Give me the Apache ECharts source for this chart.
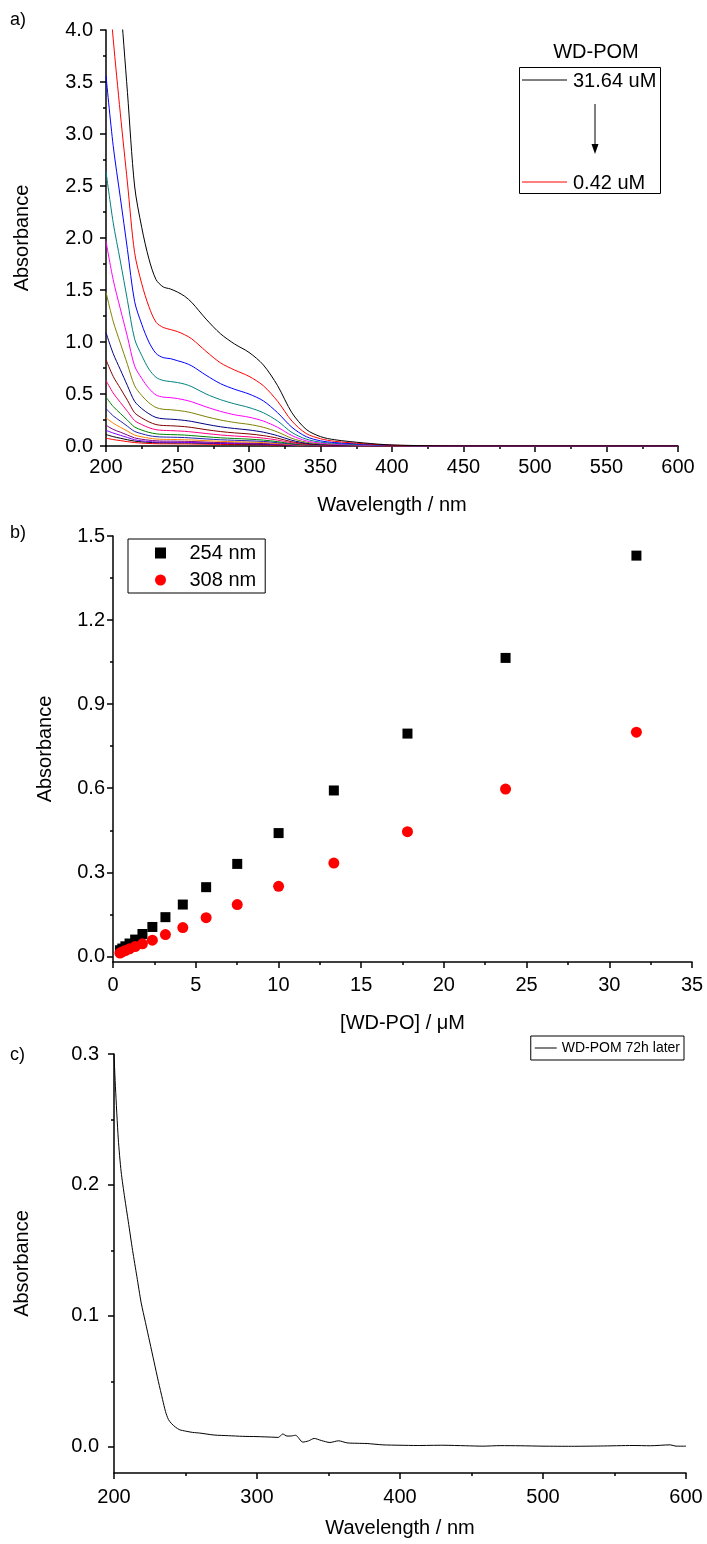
<!DOCTYPE html>
<html><head><meta charset="utf-8">
<script src="https://cdn.jsdelivr.net/npm/echarts@6/dist/echarts.min.js"></script>
<style>html,body{margin:0;padding:0;background:#fff}#c{width:707px;height:1544px}</style>
</head><body><div id="c"></div>
<script>
// ---------- Panel a: UV-vis spectra at decreasing concentration ----------
const wavelengthA = [200,205,210,215,220,225,230,235,240,245,250,255,260,270,280,290,300,310,320,330,340,350,360,380,400,450,500,550,600];
const concLabels = ['31.64 uM','23.73 uM','17.80 uM','13.35 uM','10.01 uM','7.51 uM','5.63 uM','4.22 uM','3.17 uM','2.38 uM','1.78 uM','1.34 uM','1.00 uM','0.75 uM','0.56 uM','0.42 uM'];
const spec_3164 = [6.40,5.20,4.30,3.40,2.50,2.10,1.80,1.60,1.53,1.51,1.48,1.44,1.38,1.22,1.08,0.98,0.90,0.78,0.58,0.32,0.16,0.09,0.06,0.03,0.01,0,0,0,0];
const spec_2373 = [4.77,3.92,3.20,2.53,1.86,1.56,1.34,1.19,1.14,1.12,1.10,1.07,1.03,0.91,0.80,0.73,0.67,0.58,0.43,0.24,0.12,0.07,0.045,0.022,0.007,0,0,0,0];
const spec_1780 = [3.56,2.89,2.39,1.89,1.39,1.17,1.00,0.89,0.85,0.84,0.82,0.80,0.77,0.68,0.60,0.545,0.50,0.434,0.32,0.18,0.09,0.05,0.033,0.017,0.006,0,0,0,0];
const spec_1335 = [2.64,2.15,1.78,1.40,1.03,0.87,0.74,0.66,0.63,0.62,0.61,0.595,0.57,0.50,0.446,0.405,0.37,0.32,0.24,0.13,0.066,0.037,0.025,0.012,0.004,0,0,0,0];
const spec_1001 = [1.97,1.60,1.32,1.05,0.77,0.65,0.554,0.49,0.47,0.465,0.456,0.443,0.425,0.376,0.333,0.30,0.277,0.24,0.18,0.10,0.05,0.028,0.018,0.009,0.003,0,0,0,0];
const spec_0751 = [1.48,1.20,0.99,0.785,0.58,0.485,0.416,0.37,0.353,0.349,0.342,0.333,0.319,0.282,0.25,0.226,0.208,0.18,0.134,0.074,0.037,0.021,0.014,0.007,0.002,0,0,0,0];
const spec_0563 = [1.09,0.89,0.735,0.58,0.43,0.36,0.31,0.274,0.262,0.258,0.253,0.246,0.236,0.209,0.185,0.168,0.154,0.133,0.099,0.055,0.027,0.015,0.01,0.005,0.002,0,0,0,0];
const spec_0422 = [0.83,0.67,0.555,0.44,0.32,0.27,0.232,0.206,0.197,0.195,0.191,0.186,0.178,0.157,0.139,0.126,0.116,0.10,0.075,0.041,0.021,0.012,0.008,0.004,0.001,0,0,0,0];
const spec_0317 = [0.63,0.51,0.42,0.333,0.245,0.206,0.176,0.157,0.15,0.148,0.145,0.141,0.135,0.12,0.106,0.096,0.088,0.076,0.057,0.031,0.016,0.009,0.006,0.003,0.001,0,0,0,0];
const spec_0238 = [0.47,0.38,0.314,0.248,0.183,0.153,0.131,0.117,0.112,0.11,0.108,0.105,0.10,0.089,0.079,0.072,0.066,0.057,0.042,0.023,0.012,0.007,0.004,0.002,0.001,0,0,0,0];
const spec_0178 = [0.36,0.29,0.24,0.19,0.14,0.118,0.10,0.09,0.086,0.085,0.083,0.081,0.077,0.068,0.06,0.055,0.05,0.044,0.032,0.018,0.009,0.005,0.003,0.002,0.001,0,0,0,0];
const spec_0134 = [0.27,0.22,0.18,0.143,0.105,0.088,0.076,0.067,0.064,0.063,0.062,0.06,0.058,0.051,0.045,0.041,0.038,0.033,0.024,0.013,0.007,0.004,0.003,0.001,0,0,0,0,0];
const spec_0100 = [0.20,0.16,0.133,0.105,0.078,0.065,0.056,0.05,0.047,0.047,0.046,0.045,0.043,0.038,0.033,0.03,0.028,0.024,0.018,0.01,0.005,0.003,0.002,0.001,0,0,0,0,0];
const spec_0075 = [0.15,0.125,0.103,0.082,0.06,0.05,0.043,0.038,0.037,0.036,0.036,0.035,0.033,0.029,0.026,0.024,0.022,0.019,0.014,0.008,0.004,0.002,0.001,0.001,0,0,0,0,0];
const spec_0056 = [0.11,0.09,0.075,0.06,0.047,0.04,0.035,0.032,0.031,0.03,0.03,0.03,0.029,0.026,0.023,0.021,0.019,0.016,0.012,0.007,0.004,0.002,0.001,0.001,0,0,0,0,0];
const spec_0042 = [0.075,0.062,0.052,0.042,0.033,0.028,0.024,0.022,0.021,0.021,0.02,0.02,0.019,0.017,0.015,0.014,0.013,0.011,0.008,0.005,0.003,0.001,0.001,0,0,0,0,0,0];
const spectraA = [spec_3164,spec_2373,spec_1780,spec_1335,spec_1001,spec_0751,spec_0563,spec_0422,spec_0317,spec_0238,spec_0178,spec_0134,spec_0100,spec_0075,spec_0056,spec_0042];
const colorsA = ['#000000','#FF0000','#0000FF','#008080','#FF00FF','#808000','#000080','#800000','#FF0080','#008000','#2020B0','#FF8000','#800080','#8000FF','#000000','#FF0000'];

// ---------- Panel b: absorbance vs concentration ----------
const concB = [31.64,23.73,17.80,13.35,10.01,7.51,5.63,4.22,3.17,2.38,1.78,1.34,1.00,0.75,0.56,0.42];
const abs254 = [1.43,1.065,0.795,0.592,0.44,0.33,0.247,0.185,0.14,0.105,0.08,0.06,0.046,0.036,0.028,0.022];
const abs308 = [0.80,0.597,0.445,0.333,0.25,0.185,0.138,0.103,0.078,0.058,0.045,0.035,0.027,0.021,0.016,0.012];

// ---------- Panel c: spectrum 72 h later ----------
const wavelengthC = [200,201,203,205,207.5,210,213,216,219,222,225,228,231,234,236,238,240,243,246,250,255,260,270,280,290,300,310,315,318,321,324,327,332,336,340,345,351,357,363,370,377,388,400,412,430,446,458,470,484,500,520,540,563,575,589,593,600];
const absC = [0.300,0.275,0.235,0.21,0.19,0.172,0.15,0.13,0.11,0.095,0.08,0.065,0.05,0.036,0.027,0.021,0.018,0.015,0.013,0.012,0.011,0.0105,0.009,0.0085,0.008,0.0078,0.0074,0.0072,0.0098,0.0082,0.0083,0.0088,0.0036,0.0045,0.0064,0.0048,0.0033,0.0046,0.003,0.0027,0.0025,0.0015,0.0012,0.001,0.0012,0.0008,0.0005,0.0009,0.0008,0.0005,0.0004,0.0006,0.001,0.0008,0.0015,0.0005,0.0005];

const FONT = 'Liberation Sans, Arial, sans-serif';
const FS = 20;
const chart = echarts.init(document.getElementById('c'), null, {renderer:'canvas'});

function xAx(gi, min, max, interval, name, margin, nameGap) {
  return {
    gridIndex: gi, type: 'value', min: min, max: max, interval: interval,
    axisLine: {onZero: false, lineStyle: {color: '#000', width: 1.5}},
    axisTick: {length: 6, lineStyle: {color: '#000', width: 1.5}},
    minorTick: {show: true, splitNumber: 2, length: 3, lineStyle: {color: '#000', width: 1.5}},
    splitLine: {show: false},
    axisLabel: {fontSize: FS, color: '#000', fontFamily: FONT, margin: margin},
    name: name, nameLocation: 'middle', nameGap: nameGap,
    nameTextStyle: {fontSize: FS, color: '#000', fontFamily: FONT}
  };
}
function yAxMain(gi, min, max, labels, name, margin, nameGap, interval) {
  const o = {
    gridIndex: gi, type: 'value', min: min, max: max,
    axisLine: {onZero: false, lineStyle: {color: '#000', width: 1.5}},
    axisTick: {length: 6, lineStyle: {color: '#000', width: 1.5}},
    splitLine: {show: false},
    axisLabel: {fontSize: FS, color: '#000', fontFamily: FONT, margin: margin, formatter: v => v.toFixed(1)},
    name: name, nameLocation: 'middle', nameGap: nameGap,
    nameTextStyle: {fontSize: FS, color: '#000', fontFamily: FONT}
  };
  if (interval) {
    o.interval = interval;
    o.minorTick = {show: true, splitNumber: 2, length: 3, lineStyle: {color: '#000', width: 1.5}};
  } else {
    o.axisLabel.customValues = labels;
    o.axisTick.customValues = labels;
  }
  return o;
}
function yAxMinor(gi, min, max, ticks) {
  return {
    gridIndex: gi, type: 'value', min: min, max: max, position: 'left',
    axisLine: {show: false, onZero: false},
    axisTick: {show: true, length: 3, customValues: ticks, lineStyle: {color: '#000', width: 1.5}},
    axisLabel: {show: false}, splitLine: {show: false}
  };
}

const series = [];
spectraA.forEach((arr, i) => {
  series.push({
    name: concLabels[i], type: 'line', xAxisIndex: 0, yAxisIndex: 0,
    data: wavelengthA.map((w, j) => [w, arr[j]]),
    showSymbol: false, symbol: 'none', smooth: 0.3,
    lineStyle: {color: colorsA[i], width: 1}, itemStyle: {color: colorsA[i]},
    clip: true, silent: true, z: 20 - i
  });
});
series.push({
  name: '254 nm', type: 'scatter', xAxisIndex: 1, yAxisIndex: 1,
  data: concB.map((c, j) => [c, abs254[j]]),
  symbol: 'rect', symbolSize: 10, itemStyle: {color: '#000', opacity: 1}
});
series.push({
  name: '308 nm', type: 'scatter', xAxisIndex: 1, yAxisIndex: 1,
  data: concB.map((c, j) => [c, abs308[j]]),
  symbol: 'circle', symbolSize: 11, itemStyle: {color: '#FF0000', opacity: 1}
});
series.push({
  name: 'WD-POM 72h later', type: 'line', xAxisIndex: 2, yAxisIndex: 3,
  data: wavelengthC.map((w, j) => [w, absC[j]]),
  showSymbol: false, symbol: 'none', smooth: 0.25,
  lineStyle: {color: '#000', width: 1}, itemStyle: {color: '#000'}
});

const option = {
  backgroundColor: '#fff',
  animation: false,
  textStyle: {fontFamily: FONT},
  grid: [
    {left: 106, top: 30, width: 572, height: 416},
    {left: 113, top: 536, width: 579, height: 426},
    {left: 114, top: 1054, width: 572, height: 419}
  ],
  xAxis: [
    xAx(0, 200, 600, 50, 'Wavelength / nm', 11, 49),
    xAx(1, 0, 35, 5, '[WD-PO] / \u03bcM', 13, 51),
    xAx(2, 200, 600, 100, 'Wavelength / nm', 14, 45)
  ],
  yAxis: [
    yAxMain(0, 0, 4, null, 'Absorbance', 13, 74, 0.5),
    yAxMain(1, -0.02, 1.5, [0, 0.3, 0.6, 0.9, 1.2, 1.5], 'Absorbance', 8, 58),
    yAxMinor(1, -0.02, 1.5, [0.15, 0.45, 0.75, 1.05, 1.35]),
    yAxMain(2, -0.02, 0.3, [0, 0.1, 0.2, 0.3], 'Absorbance', 15, 82),
    yAxMinor(2, -0.02, 0.3, [0.05, 0.15, 0.25])
  ],
  legend: [
    {
      data: [{name: '254 nm', icon: 'path://M0 0L10 0L10 10L0 10Z'}, {name: '308 nm', icon: 'circle'}],
      left: 128, top: 539, orient: 'vertical',
      borderColor: '#000', borderWidth: 1, borderRadius: 0,
      padding: [4, 9, 3, 27], itemGap: 7, itemWidth: 48, itemHeight: 11,
      symbolKeepAspect: true,
      textStyle: {fontSize: FS, color: '#000', fontFamily: FONT},
      selectedMode: false
    },
    {
      data: [{name: 'WD-POM 72h later', icon: 'rect'}],
      right: 23, top: 1036, orient: 'vertical',
      borderColor: '#000', borderWidth: 1, borderRadius: 0,
      padding: [5, 4, 5, 4], itemWidth: 22, itemHeight: 1,
      textStyle: {fontSize: 14, color: '#000', fontFamily: FONT},
      selectedMode: false
    }
  ],
  graphic: [
    {type: 'text', left: 10, top: 11, style: {text: 'a)', font: '18px ' + FONT, fill: '#000'}},
    {type: 'text', left: 10, top: 524, style: {text: 'b)', font: '18px ' + FONT, fill: '#000'}},
    {type: 'text', left: 10, top: 1046, style: {text: 'c)', font: '18px ' + FONT, fill: '#000'}},
    {type: 'text', x: 596, y: 52, style: {text: 'WD-POM', font: '20px ' + FONT, fill: '#000', align: 'center', verticalAlign: 'middle'}},
    {type: 'rect', shape: {x: 519.5, y: 67.5, width: 141, height: 126}, style: {fill: 'none', stroke: '#000', lineWidth: 1}},
    {type: 'line', shape: {x1: 522, y1: 80, x2: 567, y2: 80}, style: {stroke: '#000', lineWidth: 1}},
    {type: 'text', x: 573, y: 81, style: {text: '31.64 uM', font: '20px ' + FONT, fill: '#000', verticalAlign: 'middle'}},
    {type: 'line', shape: {x1: 595, y1: 104, x2: 595, y2: 146}, style: {stroke: '#000', lineWidth: 1}},
    {type: 'polygon', shape: {points: [[591.5, 144], [598.5, 144], [595, 154]]}, style: {fill: '#000'}},
    {type: 'line', shape: {x1: 522, y1: 182, x2: 567, y2: 182}, style: {stroke: '#FF0000', lineWidth: 1}},
    {type: 'text', x: 573, y: 183, style: {text: '0.42 uM', font: '20px ' + FONT, fill: '#000', verticalAlign: 'middle'}}
  ],
  series: series
};
chart.setOption(option);
</script>
</body></html>
